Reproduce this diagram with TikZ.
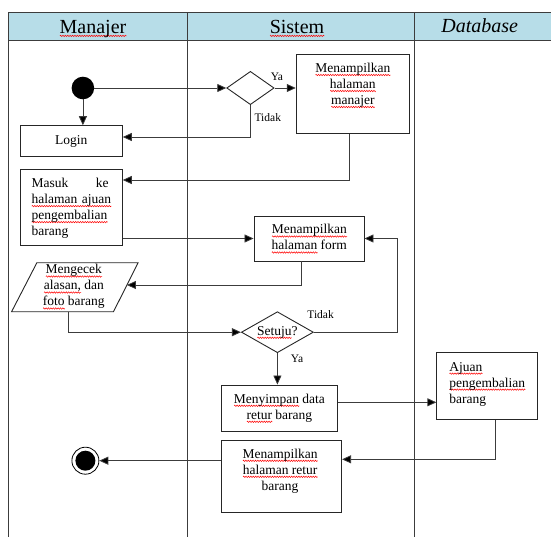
\documentclass[tikz,border=0pt]{standalone}
\usepackage{fontspec}
\setmainfont{Liberation Serif}
\usetikzlibrary{arrows.meta,shapes.geometric,decorations.pathmorphing}
\newsavebox\sqbox
\newcommand\sq[1]{\sbox\sqbox{#1}\leavevmode\rlap{\tikz[baseline=0pt]\draw[red, line width=0.5pt, decorate, decoration={zigzag, amplitude=0.7pt, segment length=2.4pt}] (0pt,-2.6pt) -- (\wd\sqbox,-2.6pt);}#1}
\definecolor{hdr}{RGB}{183,221,232}
\definecolor{ln}{RGB}{60,60,60}
\begin{document}
\begin{tikzpicture}[x=1pt,y=-1pt,
  box/.style={draw=black!85, line width=0.9pt, rectangle, inner sep=0pt},
  txt/.style={font=\fontsize{13.5}{16}\selectfont, align=center, inner sep=0pt},
  lbl/.style={font=\fontsize{11.5}{13}\selectfont, inner sep=0pt},
  hd/.style={font=\fontsize{20}{24}\selectfont, inner sep=0pt, anchor=base},
  arr/.style={draw=ln, line width=0.8pt, -{Triangle[length=9pt,width=8pt,fill=black]}},
  dia/.style={diamond, draw=black!85, line width=0.9pt, inner sep=0pt},
  frame/.style={draw=ln, line width=1.2pt}
]
\useasboundingbox (0,0) rectangle (551,537);
% lanes
\fill[hdr] (8.4,12.7) rectangle (551,40.7);
\draw[frame] (551,12.7) -- (8.4,12.7) -- (8.4,537);
\draw[frame] (8.4,40.7) -- (551,40.7);
\draw[frame] (187.7,12.7) -- (187.7,537);
\draw[frame] (414.3,12.7) -- (414.3,537);
\node[hd] (hman) at (93,33.3) {\sq{Manajer}};
\node[hd] (hsis) at (297,33.3) {\sq{Sistem}};
\node[hd] (hdb) at (479.7,33) {\textit{Database}};

% nodes
\node[circle, fill=black, minimum size=22.6pt, inner sep=0pt] (start) at (82.9,88) {};
\node[box, minimum width=101.9pt, minimum height=31pt] (login) at (71.35,141.2) {};
\node[txt] (tlogin) at (login) {Login};
\node[dia, minimum width=47.4pt, minimum height=33.3pt] (d1) at (250.4,88) {};
\node[lbl] (ya1) at (276.9,76.7) {Ya};
\node[lbl] (tidak1) at (267.8,118) {Tidak};
\node[box, minimum width=113.2pt, minimum height=79pt] (mgr) at (352.8,93.8) {};
\node[txt] (tmgr) at (352.8,85.5) {\sq{Menampilkan}\\\sq{halaman}\\\sq{manajer}};
\node[box, minimum width=101.9pt, minimum height=75.7pt] (masuk) at (71.35,207.15) {};
\node[txt, align=left, text width=84pt] (tmasuk) at (73.6,208.3) {\makebox[77pt][l]{Masuk\hfill ke}\\\sq{halaman ajuan}\\\sq{pengembalian}\\barang};
\node[box, minimum width=110pt, minimum height=45pt] (form) at (309,238.5) {};
\node[txt] (tform) at (309.3,239) {\sq{Menampilkan}\\\sq{halaman} form};

\coordinate (p1) at (36.9,262.7);
\coordinate (p2) at (138.1,262.7);
\coordinate (p3) at (113.5,311.7);
\coordinate (p4) at (11.6,311.7);
\draw[black!85, line width=0.9pt] (p1) -- (p2) -- (p3) -- (p4) -- cycle;
\coordinate (pr) at (126.9,285);
\coordinate (pb) at (68.5,311.7);
\node[txt] (tpara) at (73.8,287) {\sq{Mengecek}\\\sq{alasan,} dan\\\sq{foto} barang};

\node[dia, minimum width=72pt, minimum height=41pt] (d2) at (277.4,332.2) {};
\node[txt] (td2) at (277.4,332.5) {\sq{Setuju}?};
\node[lbl] (tidak2) at (320.6,315) {Tidak};
\node[lbl] (ya2) at (297,358.3) {Ya};

\node[box, minimum width=116.3pt, minimum height=46.7pt] (simpan) at (279.55,408.35) {};
\node[txt] (tsimpan) at (279.4,408.3) {\sq{Menyimpan} data\\\sq{retur} barang};

\node[box, minimum width=100.9pt, minimum height=66.8pt] (ajuan) at (487.25,386.1) {};
\node[txt, align=left, anchor=west] (tajuan) at (449.1,384) {\sq{Ajuan}\\\sq{pengembalian}\\barang};

\node[box, minimum width=120.2pt, minimum height=72.3pt] (retur) at (281.5,476.15) {};
\node[txt] (tretur) at (280.1,471) {\sq{Menampilkan}\\\sq{halaman retur}\\barang};

\node[circle, draw=black, line width=0.8pt, minimum size=27pt, inner sep=0pt] (end) at (85.4,460.7) {};
\node[circle, fill=black, minimum size=20pt, inner sep=0pt] (endin) at (end) {};

% connectors
\draw[arr] (start) -- (start |- login.north);
\draw[arr] (start) -- (d1.west);
\draw[arr] (d1.east) -- (d1.east -| mgr.west);
\coordinate (c1) at (252,137);
\draw[arr] (d1.south) |- (login.east |- c1);
\coordinate (c2) at (349,180);
\draw[arr] (c2 |- mgr.south) |- (masuk.east |- c2);
\draw[arr] (masuk.east |- form.west) -- (form.west);
\coordinate (c3) at (301.5,285);
\draw[arr] (c3 |- form.south) |- (pr);
\draw[arr] (pb) |- (d2.west);
\coordinate (c5) at (397.1,332.2);
\draw[arr] (d2.east) -- (c5) |- (form.east);
\draw[arr] (d2.south) -- (d2.south |- simpan.north);
\coordinate (c6) at (0,402.3);
\draw[arr] (simpan.east |- c6) -- (ajuan.west |- c6);
\coordinate (c7) at (495.5,459.3);
\draw[arr] (c7 |- ajuan.south) |- (retur.east |- c7);
\draw[arr] (retur.west |- end) -- (end.east);
\end{tikzpicture}
\end{document}
